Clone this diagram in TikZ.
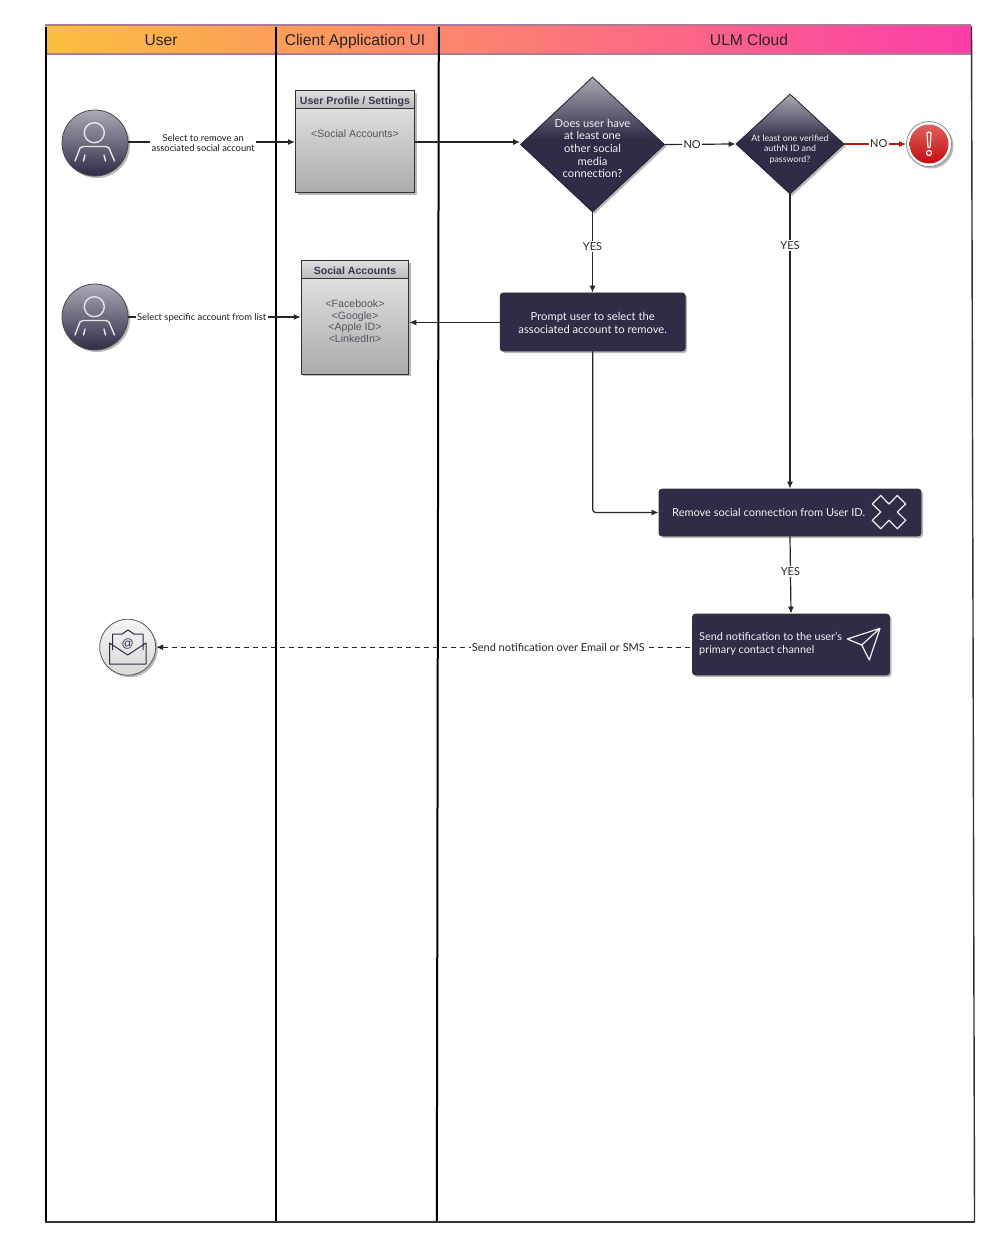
\documentclass[tikz,border=0pt]{standalone}
\usepackage{fontspec}
\setmainfont{Lato}
\newfontfamily\hdrfont{Liberation Sans}
\usetikzlibrary{shapes.geometric,arrows.meta,shadows}
\definecolor{navy}{HTML}{2E2C46}
\definecolor{lightnavy}{HTML}{ABA9B4}
\definecolor{lanemauve}{HTML}{AE7A98}
\definecolor{boxink}{HTML}{3A3850}
\definecolor{boxgrey}{HTML}{555560}
\definecolor{redline}{HTML}{B02010}
\definecolor{bandleft}{HTML}{FBBF3F}
\definecolor{bandright}{HTML}{FB3DA8}
\definecolor{alerttop}{HTML}{E06060}
\definecolor{alertbottom}{HTML}{C40C0C}
\pgfdeclareverticalshading{diamondfade}{100bp}{color(0bp)=(navy); color(52bp)=(navy); color(75bp)=(lightnavy); color(100bp)=(lightnavy)}
\tikzset{
  softshadow/.style={drop shadow={shadow xshift=2pt,shadow yshift=-2pt,fill=black,opacity=.28}},
  lane/.style={line width=2pt,black},
  band/.style={line width=2.6pt,lanemauve},
  hdr/.style={font=\hdrfont\fontsize{15.6}{18}\selectfont,text=black!85,inner sep=0pt,text height=11.5pt,text depth=3.5pt},
  flow/.style={line width=1.2pt,draw=black!85,-{Latex[length=7pt,width=6pt]}},
  usercircle/.style={circle,minimum size=66pt,inner sep=0pt,draw=black!70,line width=.8pt,top color=lightnavy,bottom color=navy,softshadow},
  decide/.style={diamond,shade,shading=diamondfade,draw=navy!70!black,line width=.8pt,inner sep=0pt,softshadow},
  dtext/.style={align=center,text=white!95!black,inner sep=0pt},
  stepbox/.style={rectangle,rounded corners=3pt,fill=navy,draw=black!80,line width=.8pt,softshadow,text=white!95!black,inner sep=0pt},
  greybox/.style={rectangle,draw=black!80,line width=1pt,top color=black!9,bottom color=black!33,softshadow,inner sep=0pt},
  greyhead/.style={rectangle,draw=black!80,line width=1pt,top color=black!13,bottom color=black!27,inner sep=0pt,text height=10.7pt,text depth=2pt,font=\hdrfont\bfseries\fontsize{10.6}{12}\selectfont,text=boxink},
  greytext/.style={font=\hdrfont\fontsize{10.6}{11.8}\selectfont,text=boxgrey,align=center,inner sep=0pt},
  lbl/.style={fill=white,inner sep=1.5pt,font=\fontsize{9.35}{10}\selectfont,align=center,text=black!90},
  lblb/.style={fill=white,inner sep=1.5pt,font=\fontsize{11}{12}\selectfont,text=black!85},
  pics/person/.style={code={
    \draw[white!88!navy,line width=1.4pt,line cap=round,line join=round]
      (-0.7,-10.3) circle (10)
      (-20,18) -- (-15,5) .. controls (-14,3.5) .. (-12,3.5) -- (11,3.5) .. controls (13,3.5) .. (14,5) -- (19.5,18)
      (-10,12) -- (-11.5,18) (9,12) -- (10.5,18);
  }}
}
\begin{document}
\begin{tikzpicture}[x=1pt,y=-1pt]
\useasboundingbox[fill=white] (0,0) rectangle (991,1238);

% header band
\node[rectangle,minimum width=926pt,minimum height=27pt,inner sep=0pt,left color=bandleft,right color=bandright] (band) at (508.5,39.5) {};
\path (45,25) coordinate (bandTL) (971,25) coordinate (bandTR) (45,54) coordinate (bandBL) (971,54) coordinate (bandBR);
\draw[band] (bandTL) -- (bandTR);
\draw[band] (bandBL) -- (bandBR);

% lanes
\path (46,27) coordinate (l1t) (46,1222) coordinate (l1b)
      (275.7,27) coordinate (l2t) (275.7,1222) coordinate (l2b)
      (438.8,27) coordinate (l3t) (436.8,1222) coordinate (l3b)
      (971.5,27) coordinate (l4t) (974.5,1222) coordinate (l4b)
      (45,1222) coordinate (bl) (975,1222) coordinate (br);
\draw[lane] (l1t) -- (l1b);
\draw[lane] (l2t) -- (l2b);
\draw[lane] (l3t) -- (l3b);
\draw[lane,line width=1.4pt,black!80] (l4t) -- (l4b);
\draw[line width=1.4pt,black!80] (bl) -- (br);

\node[hdr] (hUser) at (161,42) {User};
\node[hdr] (hClient) at (355,42) {Client Application UI};
\node[hdr] (hCloud) at (749,42) {ULM Cloud};

% user circles
\node[usercircle] (u1) at (95,143) {};
\pic at (u1) {person};
\node[usercircle] (u2) at (95,317) {};
\pic at (u2) {person};

% grey boxes
\node[greybox,minimum width=119pt,minimum height=102pt] (box1) at (355,142) {};
\node[greyhead,minimum width=119pt,minimum height=18pt] (box1h) at (355,100) {User Profile / Settings};
\node[greytext] (box1t) at (355,133.7) {<Social Accounts>};

\node[greybox,minimum width=107.5pt,minimum height=113pt] (box2) at (355,317.5) {};
\node[greyhead,minimum width=107.5pt,minimum height=18pt] (box2h) at (355,270) {Social Accounts};
\node[greytext] (box2t) at (355,321.3) {<Facebook>\\<Google>\\<Apple ID>\\<LinkedIn>};

% decisions
\node[decide,minimum width=144pt,minimum height=135pt] (d1) at (592.5,144.5) {};
\node[dtext,font=\fontsize{11.2}{12.7}\selectfont] (d1t) at (592.5,148.5)
  {Does user have\\at least one\\other social\\media\\connection?};
\node[decide,minimum width=108pt,minimum height=100pt] (d2) at (790,144) {};
\node[dtext,font=\fontsize{8.8}{10.4}\selectfont] (d2t) at (790,149.5)
  {At least one verified\\authN ID and\\password?};

% alert
\node[circle,minimum size=45pt,inner sep=0pt,draw=black!45,line width=.8pt,fill=white,softshadow] (alertring) at (929,144) {};
\node[circle,minimum size=39pt,inner sep=0pt,top color=alerttop,bottom color=alertbottom] (alert) at (929,144) {};
\draw[white,line width=1.2pt,line join=round] (926.9,133) .. controls (927.5,131.5) and (930.5,131.5) .. (931.1,133) -- (930,147.5) -- (928,147.5) -- cycle;
\draw[white,line width=1.2pt] (929,153) circle (2.5);

% action boxes
\node[stepbox,minimum width=185pt,minimum height=58pt] (prompt) at (592.7,322) {};
\node[dtext,font=\fontsize{11.2}{12.7}\selectfont] (promptt) at (592.7,323)
  {Prompt user to select the\\associated account to remove.};
\node[stepbox,minimum width=262pt,minimum height=47pt] (remove) at (790,512.5) {};
\node[text=white!95!black,inner sep=0pt,font=\fontsize{11}{13}\selectfont,anchor=west] (removet) at (672,512.5) {Remove social connection from User ID.};
\draw[white!95!black,line width=1.2pt,line join=round,shift={(889,512)}]
  (0,-8) -- (-8.3,-16.5) -- (-16.7,-8) -- (-8.3,0) -- (-16.7,8.3) -- (-8.3,16.7) -- (0,8.3) -- (8.3,16.7) -- (16.7,8.3) -- (8.3,0) -- (16.7,-8) -- (8.3,-16.5) -- cycle;
\node[stepbox,minimum width=197pt,minimum height=61pt] (send) at (791,644.5) {};
\node[text=white!95!black,inner sep=0pt,font=\fontsize{10.9}{12.7}\selectfont,align=left,anchor=west] (sendt) at (699,644) {Send notification to the user's\\primary contact channel};
\draw[white!95!black,line width=1.2pt,line join=round]
  (847.3,639) -- (880,628.3) -- (869.3,660) -- (861.7,645) -- cycle (861.7,645) -- (880,628.3);

% email
\node[circle,minimum size=56pt,inner sep=0pt,draw=black!65,line width=.8pt,top color=black!4,bottom color=black!15,softshadow] (mail) at (127.7,647.2) {};
\draw[navy,line width=1pt,line join=round]
  (109.5,643) -- (109.5,664) -- (146,664) -- (146,643) -- (127.7,655) -- cycle
  (112.5,650) -- (112.5,634) -- (122,634) -- (128,630) -- (134,634) -- (143,634) -- (143,650);
\node[inner sep=0pt,text=navy,font=\hdrfont\fontsize{12}{13}\selectfont] (mailat) at (127.7,644) {@};

% connectors
\draw[flow] (u1.east |- box1.west) -- node[lbl,pos=.449,yshift=-1pt] (c1) {Select to remove an\\associated social account} (box1.west);
\draw[flow] (box1.east) -- (box1.east -| d1.west);
\draw[flow] (u2.east) -- node[lbl,pos=.425,yshift=-.5pt] (c2) {Select specific account from list} (box2.west |- u2.east);
\draw[flow] (prompt.west |- 0,322.5) -- (box2.east |- 0,322.5);
\draw[flow] (d1.south) -- node[lblb,pos=.42] (c3) {YES} (prompt.north -| d1.south);
\draw[flow] (d1.east) -- node[lblb,pos=.385] (c4) {NO} (d2.west);
\draw[line width=1.2pt,draw=redline,-{Latex[length=7pt,width=6pt]}] (d2.east) -- node[lblb,pos=.556] (c5) {NO} (alertring.west);
\draw[flow] (d2.south) -- node[lblb,pos=.173] (c6) {YES} (remove.north -| d2.south);
\draw[flow,rounded corners=3pt] (prompt.south) |- (remove.west);
\draw[flow] (remove.south) -- node[lblb,pos=.45] (c7) {YES} (send.north);
\draw[flow,dash pattern=on 5pt off 4pt,{Latex[length=7pt,width=6pt]}-] (mail.east) -- node[lblb,pos=.7505,inner xsep=1pt] (c8) {Send notification over Email or SMS} (send.west |- mail.east);
\end{tikzpicture}
\end{document}
